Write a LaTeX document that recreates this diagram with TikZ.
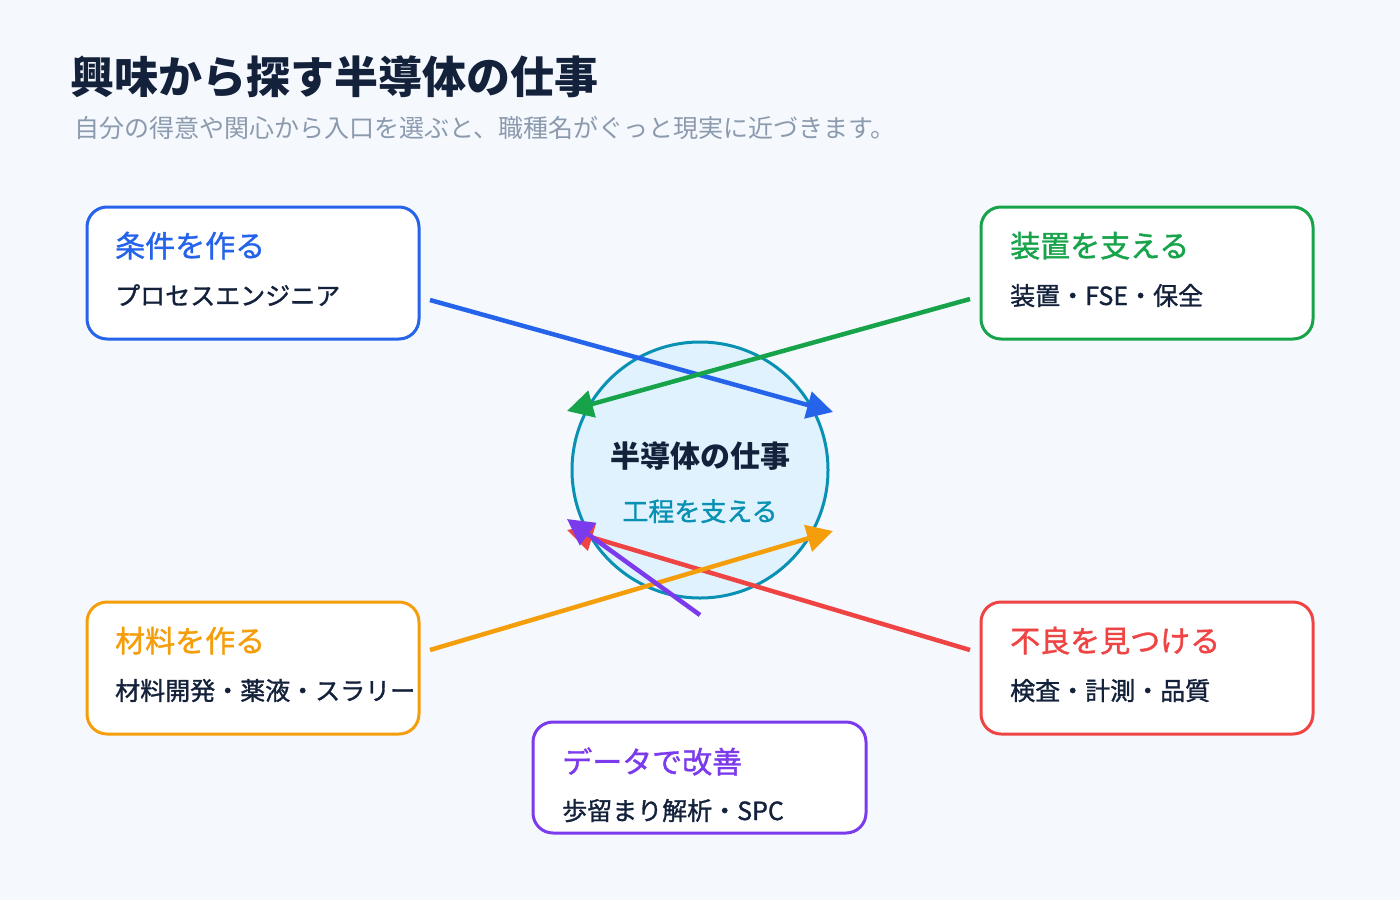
\documentclass[tikz,border=0pt]{standalone}
\usepackage{fontspec}
\setmainfont{Noto Sans CJK JP}
\newfontfamily\medfont[FakeBold=1.2]{Noto Sans CJK JP}
\usetikzlibrary{arrows.meta}
\definecolor{bg}{HTML}{F5F9FE}
\definecolor{navy}{HTML}{13213B}
\definecolor{greytxt}{HTML}{8C9AAE}
\definecolor{cblue}{HTML}{2563EB}
\definecolor{cgreen}{HTML}{16A34A}
\definecolor{corange}{HTML}{F59E0B}
\definecolor{cred}{HTML}{EF4444}
\definecolor{cpurple}{HTML}{7C3AED}
\definecolor{cteal}{HTML}{0891B2}
\definecolor{cfill}{HTML}{E0F2FE}
\tikzset{
  card/.style={draw=#1, line width=3pt, fill=white, rounded corners=20pt},
  cardtitle/.style={anchor=base west, inner sep=0pt, text=#1, font=\medfont\fontsize{30}{32}\selectfont},
  cardsub/.style={anchor=base west, inner sep=0pt, text=navy, font=\medfont\fontsize{25}{27}\selectfont},
  link/.style={draw=#1, line width=4.5pt, -{Triangle[length=26pt,width=27pt]}, #1},
}
\begin{document}
\begin{tikzpicture}[x=1pt,y=-1pt]
\useasboundingbox (0,0) rectangle (1400,900);
\fill[bg] (0,0) rectangle (1400,900);
% title
\node[anchor=base west, inner sep=0pt, text=navy, font=\fontsize{44}{46}\selectfont\bfseries] (title) at (70,93) {興味から探す半導体の仕事};
\node[anchor=base west, inner sep=0pt, text=greytxt, font=\fontsize{25}{27}\selectfont] (subtitle) at (74,137) {自分の得意や関心から入口を選ぶと、職種名がぐっと現実に近づきます。};
% center circle
\node[circle, draw=cteal, line width=3pt, fill=cfill, minimum size=256pt, inner sep=0pt] (hub) at (700,470) {};
\node[anchor=base, inner sep=0pt, text=navy, font=\fontsize{30}{32}\selectfont\bfseries] (hubtitle) at (700,467) {半導体の仕事};
\node[anchor=base, inner sep=0pt, text=cteal, font=\medfont\fontsize{26}{28}\selectfont] (hubsub) at (700,521) {工程を支える};
% cards
\draw[card=cblue] (87,207) rectangle (419,339);
\node[cardtitle=cblue] (t1) at (115,257) {条件を作る};
\node[cardsub] (s1) at (115,305) {プロセスエンジニア};
\draw[card=cgreen] (981,207) rectangle (1313,339);
\node[cardtitle=cgreen] (t2) at (1010,257) {装置を支える};
\node[cardsub] (s2) at (1010,305) {装置・FSE・保全};
\draw[card=corange] (87,602) rectangle (419,734);
\node[cardtitle=corange] (t3) at (115,652) {材料を作る};
\node[cardsub] (s3) at (115,700) {材料開発・薬液・スラリー};
\draw[card=cred] (981,602) rectangle (1313,734);
\node[cardtitle=cred] (t4) at (1010,652) {不良を見つける};
\node[cardsub] (s4) at (1010,700) {検査・計測・品質};
\draw[card=cpurple] (533,722) rectangle (866,833);
\node[cardtitle=cpurple] (t5) at (562,773) {データで改善};
\node[cardsub] (s5) at (562,820) {歩留まり解析・SPC};
% connectors
\coordinate (bS) at (430,300); \coordinate (bE) at (833,412);
\coordinate (gS) at (970,299); \coordinate (gE) at (567,411);
\coordinate (rS) at (970,650); \coordinate (rE) at (567,530);
\coordinate (oS) at (430,650); \coordinate (oE) at (833,531);
\coordinate (pS) at (700,615); \coordinate (pE) at (567,519);
\draw[link=cblue] (bS) -- (bE);
\draw[link=cgreen] (gS) -- (gE);
\draw[link=cred] (rS) -- (rE);
\draw[link=corange] (oS) -- (oE);
\draw[link=cpurple] (pS) -- (pE);
\end{tikzpicture}
\end{document}
